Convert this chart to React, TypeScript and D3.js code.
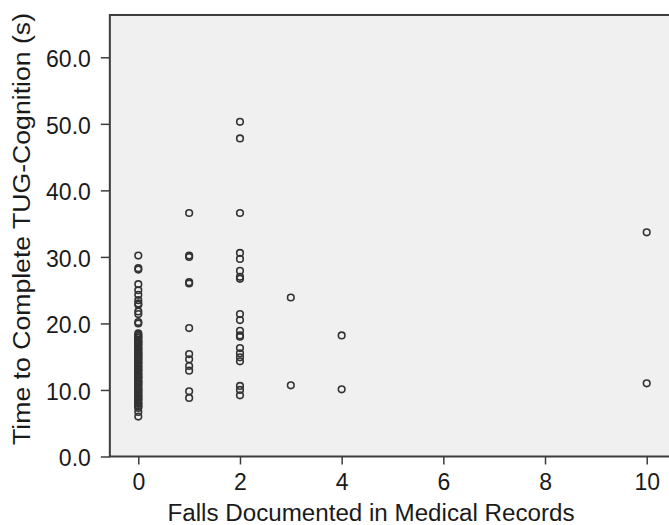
import { useEffect, useRef } from "react";
import * as d3 from "d3";

// falls documented (x) and TUG-Cognition times (y), one array per fall count
const fallCounts = [0, 1, 2, 3, 4, 10];

const tugFalls0 = [
  30.2, 28.3, 28.1, 25.9, 25.0, 24.3, 23.5, 23.0, 22.8, 21.8, 21.4, 20.2, 20.0,
  18.5, 18.3, 18.1, 17.9, 17.8, 17.5, 17.3, 17.2, 17.0, 16.8, 16.7, 16.4, 16.2,
  16.1, 15.8, 15.6, 15.5, 15.3, 15.1, 15.0, 14.8, 14.6, 14.5, 14.2, 14.1, 14.0,
  13.7, 13.5, 13.4, 13.1, 13.0, 12.9, 12.6, 12.4, 12.3, 12.0, 11.9, 11.8, 11.5,
  11.3, 11.2, 11.0, 10.8, 10.7, 10.4, 10.2, 10.1, 9.9, 9.7, 9.6, 9.3, 9.1, 9.0,
  8.8, 8.6, 8.5, 8.2, 8.0, 7.9, 7.6, 7.5, 7.3, 6.7, 6.0,
];
const tugFalls1 = [36.6, 30.2, 30.0, 26.2, 26.0, 19.3, 15.4, 14.6, 13.6, 12.9, 9.8, 8.8];
const tugFalls2 = [
  50.3, 47.8, 36.6, 30.6, 29.7, 27.9, 27.0, 26.7, 21.4, 20.5, 18.9, 18.2, 18.0,
  16.3, 15.5, 14.9, 14.3, 10.6, 10.0, 9.2,
];
const tugFalls3 = [23.9, 10.7];
const tugFalls4 = [18.2, 10.1];
const tugFalls10 = [33.7, 11.0];

const yTicks = [0, 10, 20, 30, 40, 50, 60];
const xTicks = [0, 2, 4, 6, 8, 10];

const xTitle = "Falls Documented in Medical Records";
const yTitle = "Time to Complete TUG-Cognition (s)";

const W = 669;
const H = 525;

export default function App() {
  const ref = useRef<SVGSVGElement>(null);

  useEffect(() => {
    if (!ref.current) return;
    const svg = d3.select(ref.current);
    svg.selectAll("*").remove();

    const font = "'Liberation Sans', Arial, sans-serif";
    const series = [tugFalls0, tugFalls1, tugFalls2, tugFalls3, tugFalls4, tugFalls10];
    const points = fallCounts.flatMap((f, i) => series[i].map((t) => ({ falls: f, time: t })));

    const x = d3.scaleLinear().domain([0, 10]).range([138.3, 646.7]);
    const y = d3.scaleLinear().domain([0, 60]).range([456.5, 57.3]);

    const left = x(-0.56);
    const right = x(10.56);
    const top = y(66.36);
    const bottom = y(0);

    svg.append("rect").attr("width", W).attr("height", H).attr("fill", "#ffffff");

    svg
      .append("rect")
      .attr("x", left)
      .attr("y", top)
      .attr("width", right - left)
      .attr("height", bottom - top)
      .attr("fill", "#f0f0f0")
      .attr("stroke", "#3c3c3c")
      .attr("stroke-width", 2);

    const yAxis = svg
      .append("g")
      .attr("transform", `translate(${left},0)`)
      .call(
        d3
          .axisLeft(y)
          .tickValues(yTicks)
          .tickSize(9)
          .tickPadding(10)
          .tickFormat((d) => d3.format(".1f")(d as number))
      );
    yAxis.select(".domain").remove();
    yAxis.selectAll("line").attr("stroke", "#3c3c3c").attr("stroke-width", 1.5);
    yAxis
      .selectAll("text")
      .attr("font-family", font)
      .attr("font-size", 23)
      .attr("fill", "#1a1a1a")
      .attr("dy", "0.4em");

    const xAxis = svg
      .append("g")
      .attr("transform", `translate(0,${bottom})`)
      .call(d3.axisBottom(x).tickValues(xTicks).tickSize(8).tickPadding(9).tickFormat(d3.format("d")));
    xAxis.select(".domain").remove();
    xAxis.selectAll("line").attr("stroke", "#3c3c3c").attr("stroke-width", 1.5);
    xAxis
      .selectAll("text")
      .attr("font-family", font)
      .attr("font-size", 23)
      .attr("fill", "#1a1a1a");

    svg
      .append("g")
      .selectAll("circle")
      .data(points)
      .enter()
      .append("circle")
      .attr("cx", (d) => x(d.falls))
      .attr("cy", (d) => y(d.time))
      .attr("r", 3.3)
      .attr("fill", "none")
      .attr("stroke", "#333333")
      .attr("stroke-width", 1.6);

    svg
      .append("text")
      .attr("x", 371)
      .attr("y", 520.7)
      .attr("text-anchor", "middle")
      .attr("font-family", font)
      .attr("font-size", 23)
      .attr("fill", "#1a1a1a")
      .attr("textLength", 407)
      .attr("lengthAdjust", "spacingAndGlyphs")
      .text(xTitle);

    svg
      .append("text")
      .attr("transform", `translate(30,229) rotate(-90)`)
      .attr("text-anchor", "middle")
      .attr("font-family", font)
      .attr("font-size", 23)
      .attr("fill", "#1a1a1a")
      .attr("textLength", 432)
      .attr("lengthAdjust", "spacingAndGlyphs")
      .text(yTitle);
  }, []);

  return (
    <svg
      ref={ref}
      width={W}
      height={H}
      style={{ position: "absolute", left: 0, top: 0, display: "block" }}
    />
  );
}
